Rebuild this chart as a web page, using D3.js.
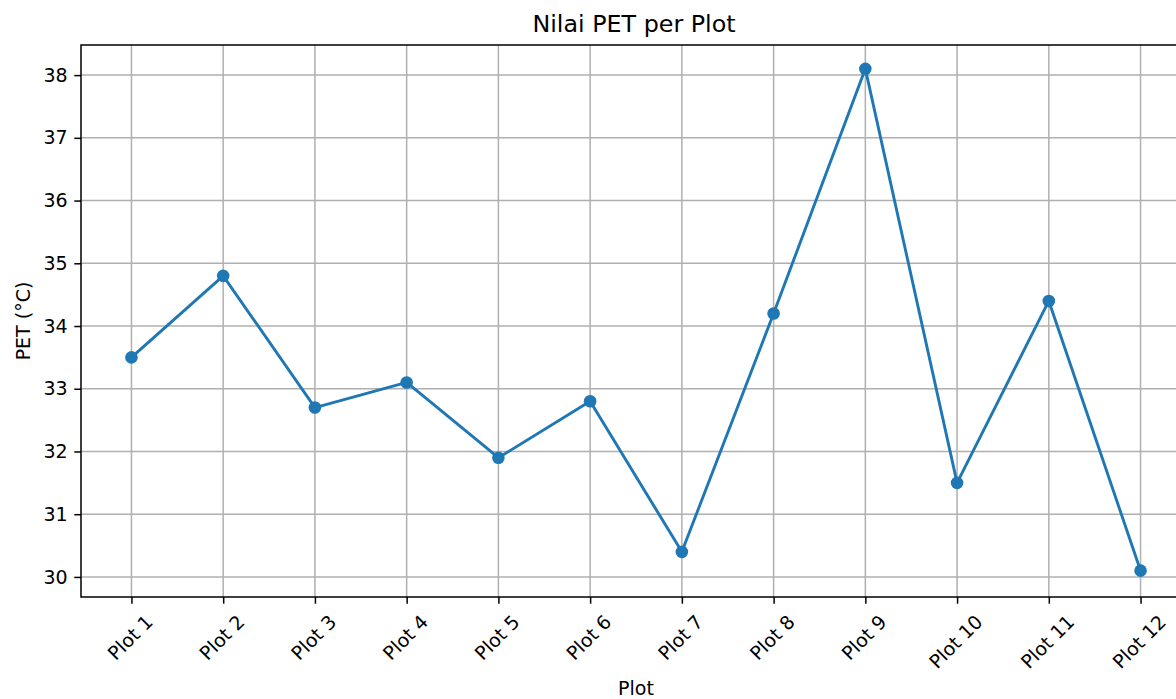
<!DOCTYPE html>
<html>
<head>
<meta charset="utf-8">
<script src="https://cdn.jsdelivr.net/npm/d3@7"></script>
<style>
  html, body { margin: 0; padding: 0; background: #fff; }
  svg { display: block; font-family: "DejaVu Sans", sans-serif; }
</style>
</head>
<body>
<svg id="chart" width="1176" height="699"></svg>
<script>
const categories = ["Plot 1","Plot 2","Plot 3","Plot 4","Plot 5","Plot 6","Plot 7","Plot 8","Plot 9","Plot 10","Plot 11","Plot 12"];
const petValues = [33.5, 34.8, 32.7, 33.1, 31.9, 32.8, 30.4, 34.2, 38.1, 31.5, 34.4, 30.1];
const yTickValues = [30, 31, 32, 33, 34, 35, 36, 37, 38];
const titleText = "Nilai PET per Plot";
const xLabelText = "Plot";
const yLabelText = "PET (°C)";

const mLeft = 81, mRight = 1191, mTop = 45, mBottom = 597;
const tickLen = 6.7, tickPad = 6.7;
const fs = 19;

const svg = d3.select("#chart");

const x = d3.scaleLinear().domain([-0.55, categories.length - 1 + 0.55]).range([mLeft, mRight]);
const y = d3.scaleLinear().domain([29.68, 38.48]).range([mBottom, mTop]);

// grid
const grid = svg.append("g");
grid.selectAll("line.v").data(categories).enter().append("line")
  .attr("x1", (d, i) => x(i)).attr("x2", (d, i) => x(i))
  .attr("y1", mTop).attr("y2", mBottom)
  .attr("stroke", "#b0b0b0").attr("stroke-width", 1.5);
grid.selectAll("line.h").data(yTickValues).enter().append("line")
  .attr("x1", mLeft).attr("x2", mRight)
  .attr("y1", d => y(d)).attr("y2", d => y(d))
  .attr("stroke", "#b0b0b0").attr("stroke-width", 1.5);

// line + markers
const line = d3.line().x((d, i) => x(i)).y(d => y(d));
svg.append("path").datum(petValues)
  .attr("d", line).attr("fill", "none")
  .attr("stroke", "#1f77b4").attr("stroke-width", 2.9)
  .attr("stroke-linejoin", "round").attr("stroke-linecap", "square");
svg.selectAll("circle.pt").data(petValues).enter().append("circle")
  .attr("cx", (d, i) => x(i)).attr("cy", d => y(d)).attr("r", 6.3)
  .attr("fill", "#1f77b4");

// spines
svg.append("rect").attr("x", mLeft).attr("y", mTop)
  .attr("width", mRight - mLeft).attr("height", mBottom - mTop)
  .attr("fill", "none").attr("stroke", "#000").attr("stroke-width", 1.5);

// y axis
const yAxis = d3.axisLeft(y).tickValues(yTickValues).tickSize(tickLen).tickSizeOuter(0).tickPadding(tickPad).tickFormat(d3.format("d"));
const gy = svg.append("g").attr("transform", `translate(${mLeft},0)`).call(yAxis);
gy.select(".domain").remove();
gy.selectAll(".tick line").attr("stroke", "#000").attr("stroke-width", 1.5);
gy.selectAll(".tick text").attr("font-size", fs).attr("font-family", "DejaVu Sans").attr("fill", "#000");

// x axis
const xAxis = d3.axisBottom(x).tickValues(d3.range(categories.length)).tickSize(tickLen).tickSizeOuter(0).tickFormat(i => categories[i]);
const gx = svg.append("g").attr("transform", `translate(0,${mBottom})`).call(xAxis);
gx.select(".domain").remove();
gx.selectAll(".tick line").attr("stroke", "#000").attr("stroke-width", 1.5);
gx.selectAll(".tick text")
  .attr("font-size", fs).attr("font-family", "DejaVu Sans").attr("fill", "#000")
  .attr("text-anchor", "middle").attr("dy", null).attr("dominant-baseline", "central")
  .each(function() {
    const t = d3.select(this);
    const w = this.getComputedTextLength();
    const h = fs * 1.164;
    const bh = (w + h) / Math.SQRT2;
    const cy = tickLen + tickPad + bh / 2;
    t.attr("y", null).attr("x", null)
     .attr("transform", `translate(-2,${cy}) rotate(-45)`);
  });

// title
svg.append("text").attr("x", 634).attr("y", 32)
  .attr("text-anchor", "middle").attr("font-size", 23.8).attr("fill", "#000")
  .text(titleText);

// x label
svg.append("text").attr("x", (mLeft + mRight) / 2).attr("y", 695)
  .attr("text-anchor", "middle").attr("font-size", fs).attr("fill", "#000")
  .text(xLabelText);

// y label
svg.append("text").attr("transform", `translate(30,${(mTop + mBottom) / 2}) rotate(-90)`)
  .attr("text-anchor", "middle").attr("font-size", fs).attr("fill", "#000")
  .text(yLabelText);
</script>
</body>
</html>
